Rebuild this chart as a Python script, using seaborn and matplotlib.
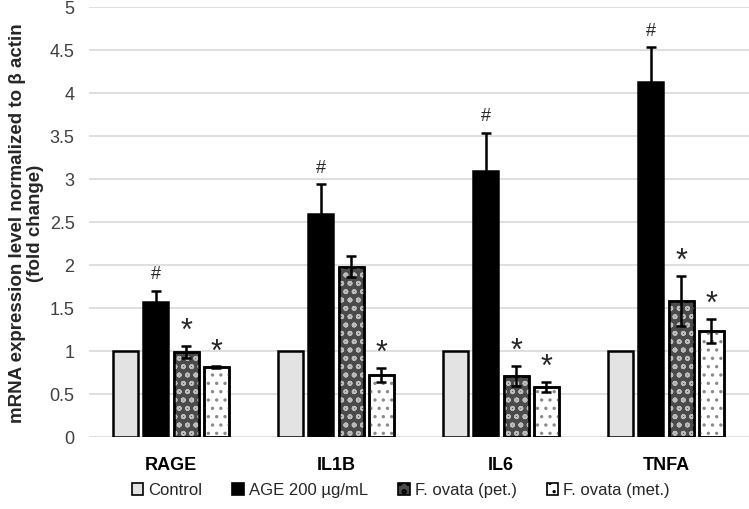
import numpy as np
import pandas as pd
import matplotlib
matplotlib.use("Agg")
import matplotlib.pyplot as plt
from matplotlib.patches import Patch, Rectangle
import seaborn as sns

genes = ["RAGE", "IL1B", "IL6", "TNFA"]
groups = ["Control", "AGE 200 µg/mL", "F. ovata (pet.)", "F. ovata (met.)"]
control = [1.0, 1.0, 1.0, 1.0]
age = [1.57, 2.59, 3.09, 4.13]
pet = [0.99, 1.98, 0.71, 1.58]
met = [0.81, 0.72, 0.58, 1.23]
control_err = [0.0, 0.0, 0.0, 0.0]
age_err = [0.13, 0.35, 0.45, 0.40]
pet_err = [0.07, 0.12, 0.12, 0.29]
met_err = [0.01, 0.08, 0.06, 0.14]
marks_age = ["#", "#", "#", "#"]
marks_pet = ["*", "", "*", "*"]
marks_met = ["*", "*", "*", "*"]
yticks = [0, 0.5, 1, 1.5, 2, 2.5, 3, 3.5, 4, 4.5, 5]

values = [control, age, pet, met]
errs = [control_err, age_err, pet_err, met_err]
marks = [[""] * 4, marks_age, marks_pet, marks_met]

rows = []
for g, vals in zip(groups, values):
    for gene, v in zip(genes, vals):
        rows.append({"gene": gene, "group": g, "value": v})
df = pd.DataFrame(rows)

sns.set_theme(style="white")
plt.rcParams["font.family"] = ["Liberation Sans", "DejaVu Sans"]
plt.rcParams["hatch.linewidth"] = 1.2

faces = ["#e3e3e3", "#000000", "#4a4a4a", "#ffffff"]
hatches = [None, None, "oo", ".."]
hatch_cols = [None, None, "#bdbdbd", "#8a8a8a"]

fig = plt.figure(figsize=(7.49, 5.10), dpi=100)
ax = fig.add_axes([88.5 / 749, 1 - 438 / 510, 660 / 749, 430 / 510])

sns.barplot(data=df, x="gene", y="value", hue="group", order=genes,
            hue_order=groups, palette=faces, width=0.73, gap=0.17,
            edgecolor="black", linewidth=1.8, errorbar=None, ax=ax,
            legend=False, zorder=3)

bars = [p for p in ax.patches if isinstance(p, Rectangle)]
for hi in range(4):
    for gi in range(4):
        p = bars[hi * 4 + gi]
        cx = p.get_x() + p.get_width() / 2
        h = p.get_height()
        if hatches[hi]:
            ov = Rectangle((p.get_x(), p.get_y()), p.get_width(), h,
                           facecolor="none", edgecolor=hatch_cols[hi],
                           hatch=hatches[hi], linewidth=0, zorder=3.5)
            ax.add_patch(ov)
            outline = Rectangle((p.get_x(), p.get_y()), p.get_width(), h,
                                facecolor="none", edgecolor="black",
                                linewidth=1.8, zorder=3.6)
            ax.add_patch(outline)
        e = errs[hi][gi]
        if e > 0:
            ax.errorbar(cx, h, yerr=e, fmt="none", ecolor="black",
                        elinewidth=1.8, capsize=3.5, capthick=1.8, zorder=4)
        m = marks[hi][gi]
        if m == "#":
            ax.text(cx, h + e + 0.1, m, ha="center", va="bottom",
                    fontsize=13, zorder=5)
        elif m == "*":
            ax.text(cx, h + e + 0.0, m, ha="center", va="bottom",
                    fontsize=22, zorder=5)

ax.set_ylim(0, 5)
ax.set_xlim(-0.5, 3.5)
ax.set_yticks(yticks)
ax.set_yticklabels([f"{t:g}" for t in yticks], fontsize=13, color="#404040")
ax.yaxis.grid(True, color="#d9d9d9", linewidth=1.2, zorder=0)
ax.set_axisbelow(True)
for s in ax.spines.values():
    s.set_visible(False)
ax.tick_params(axis="y", length=0, pad=10)
ax.tick_params(axis="x", length=0, pad=14)
for lab in ax.get_xticklabels():
    lab.set_fontweight("bold")
    lab.set_fontsize(13)
    lab.set_color("black")
ax.set_xlabel("")
ax.set_ylabel("mRNA expression level normalized to β actin\n(fold change)",
              fontsize=13.5, fontweight="bold", labelpad=4, linespacing=1.05)

handles = []
for hi in range(4):
    handles.append(Patch(facecolor=faces[hi], edgecolor="black", linewidth=1.2,
                         hatch=hatches[hi]))
fig.legend(handles, groups, loc="center", bbox_to_anchor=(0.535, 1 - 491 / 510),
           ncol=4, frameon=False, fontsize=12, handlelength=0.7,
           handleheight=0.7, handletextpad=0.3, columnspacing=1.8)

fig.savefig("out.png", dpi=100)
